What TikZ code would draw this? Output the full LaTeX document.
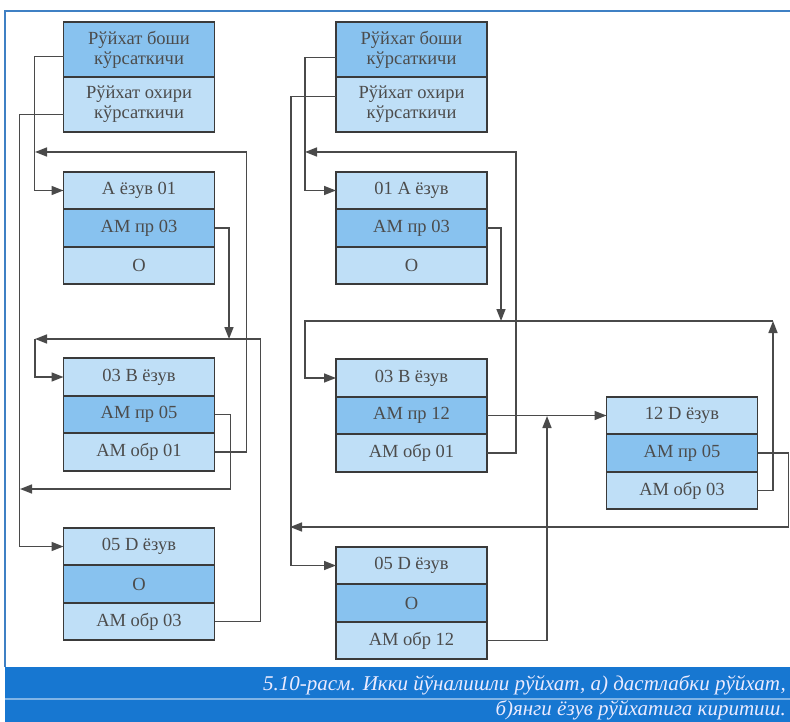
\documentclass[tikz,border=0pt]{standalone}
\usepackage{fontspec}
\setmainfont{Liberation Serif}
\usetikzlibrary{
  arrows.meta,  % for arrow tips
  positioning}
\definecolor{cellLight}{HTML}{BFDFF7}
\definecolor{cellDark}{HTML}{88C2EF}
\definecolor{cellLine}{HTML}{3A3A3A}
\definecolor{linkGray}{HTML}{4A4A4A}
\definecolor{frameBlue}{HTML}{3F80C4}
\definecolor{bandBlue}{HTML}{1777D1}
\tikzset{
  cell/.style={
    shape=rectangle, draw=cellLine, line width=1.6pt, fill=cellLight,
    minimum width=151pt, minimum height=37.5pt, inner sep=0pt, outer sep=0pt,
    font=\fontsize{18.5}{20}\selectfont, text=black!70},
  dark cell/.style={cell, fill=cellDark},
  head cell/.style={cell, minimum height=55pt, align=center},
  link/.style={
    draw=linkGray, line width=1.6pt, -{Triangle[length=12pt,width=9pt]}},
  caption/.style={
    font=\itshape\fontsize{21}{24}\selectfont, text=white!92!blue, inner sep=0pt}
}

\begin{document}
\begin{tikzpicture}[
  x=1pt, y=-1pt,
  node distance=0pt]

\useasboundingbox (0,0) rectangle (790,722);

% frame and caption band
\fill[bandBlue] (5,667) rectangle (790,722);
\draw[bandBlue!55!white, line width=1.2pt] (5,699) -- (790,699);
\draw[frameBlue, line width=2pt] (5,667) -- (5,11) -- (790,11);
\node[caption, anchor=base east] (cap1) at (786,690)
  {5.10-расм. Икки йўналишли рўйхат, а) дастлабки рўйхат,};
\node[caption, anchor=base east] (cap2) at (786,715)
  {б)янги ёзув рўйхатига киритиш.};

% a) initial list
\node[head cell, fill=cellDark] (Lhead1) at (139,49.5) {Рўйхат боши\\кўрсаткичи};
\node[head cell, below=of Lhead1] (Lhead2) {Рўйхат охири\\кўрсаткичи};

\node[cell] (La1) at (139,190.5) {А ёзув 01};
\node[dark cell, below=of La1] (La2) {АМ пр 03};
\node[cell, below=of La2] (La3) {О};

\node[cell] (Lb1) at (139,377) {03 В ёзув};
\node[dark cell, below=of Lb1] (Lb2) {АМ пр 05};
\node[cell, below=of Lb2] (Lb3) {АМ обр 01};

\node[cell] (Ld1) at (139,546.5) {05 D ёзув};
\node[dark cell, below=of Ld1] (Ld2) {О};
\node[cell, below=of Ld2] (Ld3) {АМ обр 03};

\coordinate (Lback1) at (35,152);
\coordinate (Ldown1) at (229,339);
\coordinate (Lback2) at (35,339);
\coordinate (Lback3) at (20,489);

\draw[link] ([yshift=-7pt]Lhead1.west) -- ++(-29,0) |- (La1.west);
\draw[link] (Lb3.east) -- ++(32,0) |- (Lback1);
\draw[link] (La2.east) -| (Ldown1);
\draw[link] (Ld3.east) -- ++(46,0) |- (Lback2);
\draw[link] (Lback2) |- (Lb1.west);
\draw[link] (Lb2.east) -- ++(16,0) |- (Lback3);
\draw[link] ([yshift=-10pt]Lhead2.west) -- ++(-44,0) |- (Ld1.west);

% b) list with the new record
\node[head cell, fill=cellDark] (Rhead1) at (411.5,49.5) {Рўйхат боши\\кўрсаткичи};
\node[head cell, below=of Rhead1] (Rhead2) {Рўйхат охири\\кўрсаткичи};

\node[cell] (Ra1) at (411.5,190.5) {01 А ёзув};
\node[dark cell, below=of Ra1] (Ra2) {АМ пр 03};
\node[cell, below=of Ra2] (Ra3) {О};

\node[cell] (Rb1) at (411.5,378) {03 В ёзув};
\node[dark cell, below=of Rb1] (Rb2) {АМ пр 12};
\node[cell, below=of Rb2] (Rb3) {АМ обр 01};

\node[cell] (Rd1) at (411.5,565.5) {05 D ёзув};
\node[dark cell, below=of Rd1] (Rd2) {О};
\node[cell, below=of Rd2] (Rd3) {АМ обр 12};

\node[cell] (Rn1) at (682,415.5) {12 D ёзув};
\node[dark cell, below=of Rn1] (Rn2) {АМ пр 05};
\node[cell, below=of Rn2] (Rn3) {АМ обр 03};

\coordinate (Rback1) at (305,152);
\coordinate (Rdown1) at (501,321);
\coordinate (Rup1) at (773,321);
\coordinate (Rcorner) at (305,321);
\coordinate (Rup2) at (547,416);
\coordinate (Rback2) at (290,527);

\draw[link] ([yshift=-8pt]Rhead1.west) -- ++(-31,0) |- (Ra1.west);
\draw[link] (Rb3.east) -- ++(29,0) |- (Rback1);
\draw[link] (Ra2.east) -| (Rdown1);
\draw[link] (Rn3.east) -| (Rup1);
\draw[link] (Rup1) -- (Rcorner) |- (Rb1.west);
\draw[link] (Rb2) -- (Rn1);
\draw[link] (Rd3.east) -| (Rup2);
\draw[link] (Rn2.east) -- ++(31,0) |- (Rback2);
\draw[link] ([yshift=8pt]Rhead2.west) -- ++(-45,0) |- (Rd1.west);
\end{tikzpicture}
\end{document}
